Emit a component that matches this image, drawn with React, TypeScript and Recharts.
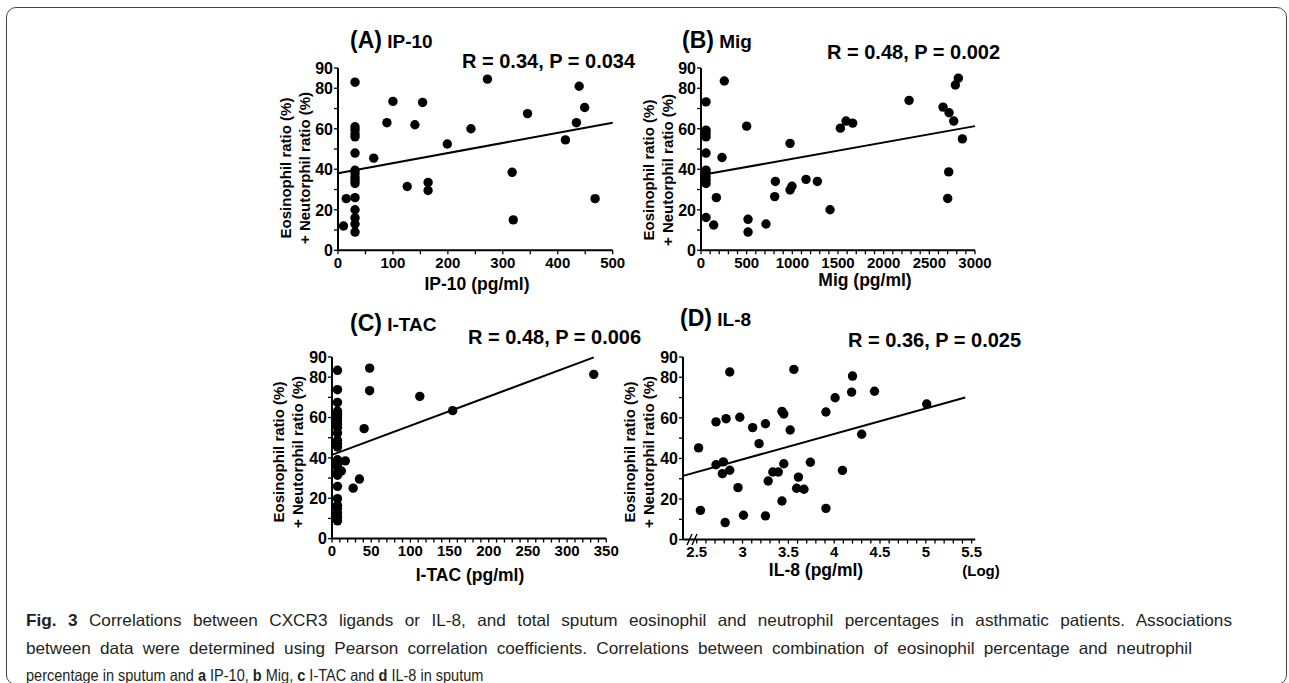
import React from "react";
import { ScatterChart, Scatter, XAxis, YAxis, ReferenceLine } from "recharts";

// values: [x, y]
const ip10Points = [
  [10, 12], [15, 25.5], [31, 83], [31, 61], [31, 59.5], [31, 57.5], [31, 56],
  [31, 48], [31, 39.5], [31, 38], [31, 36], [31, 34.5], [31, 33], [31, 26],
  [31, 20], [31, 16], [31, 13], [31, 9], [65, 45.5], [89, 63], [100, 73.5],
  [126, 31.5], [140, 62], [154, 73], [164, 33.5], [164, 29.5], [199, 52.5],
  [242, 60], [272, 84.5], [317, 38.5], [319, 15], [345, 67.5], [414, 54.5],
  [434, 63], [439, 81], [449, 70.5], [468, 25.5],
];
const ip10Fit = [[0, 38], [500, 63]];

const migPoints = [
  [55, 73.3], [255, 83.6], [55, 59.3], [55, 57.7], [55, 56], [55, 48],
  [55, 39.6], [55, 38.2], [55, 36.3], [55, 34.6], [55, 33], [55, 16.2],
  [139, 12.5], [168, 26], [230, 45.8], [500, 61.3], [515, 15.3], [515, 9],
  [712, 13], [814, 34], [807, 26.5], [975, 52.8], [975, 29.8], [996, 31.6],
  [1150, 35], [1274, 34], [1413, 20], [1526, 60.3], [1588, 63.8], [1661, 62.8],
  [2278, 74], [2650, 70.7], [2716, 67.9], [2767, 63.8], [2862, 55], [2712, 38.7],
  [2701, 25.6], [2785, 81.6], [2818, 85],
];
const migFit = [[50, 37.5], [3000, 61.3]];

const itacPoints = [
  [7, 83.4], [7, 73.8], [7, 67.5], [7, 63.2], [7, 61.6], [7, 59.9], [7, 58.3],
  [7, 56.6], [7, 55], [7, 52.3], [7, 48.7], [7, 47.1], [7, 45.4], [7, 39.1],
  [7, 37.2], [7, 35.5], [7, 33], [7, 31.4], [7, 25.9], [7, 19.8], [7, 16.5],
  [7, 14.9], [7, 12.7], [7, 10.7], [7, 8.8], [12, 33.5], [17, 38.5], [27, 25],
  [35, 29.5], [41, 54.5], [48, 84.5], [48, 73.3], [112, 70.5], [154, 63.4],
  [334, 81.4],
];
const itacFit = [[0, 41.5], [334, 89.8]];

const il8Points = [
  [2.52, 45.2], [2.54, 14.4], [2.71, 58], [2.71, 36.9], [2.78, 32.5], [2.79, 38.3],
  [2.81, 8.4], [2.82, 59.6], [2.86, 82.6], [2.86, 34.2], [2.95, 25.6], [2.97, 60.3],
  [3.01, 12], [3.11, 55.2], [3.18, 47.3], [3.25, 57.1], [3.25, 11.7], [3.28, 28.9],
  [3.33, 33.3], [3.39, 33.3], [3.43, 19], [3.43, 63.2], [3.45, 37.4], [3.45, 61.9],
  [3.52, 54], [3.56, 83.9], [3.59, 25.3], [3.61, 30.8], [3.67, 24.8], [3.74, 38.1],
  [3.91, 62.9], [3.91, 15.4], [4.01, 69.9], [4.09, 34.1], [4.19, 72.7], [4.2, 80.6],
  [4.3, 51.9], [4.44, 73.1], [5.01, 66.8],
];
const il8Fit = [[2.35, 31.4], [5.43, 70]];

const yTicks = [0, 10, 20, 30, 40, 50, 60, 70, 80, 90];
const yLabels = [0, 20, 40, 60, 80, 90];

const ip10Labels = [0, 100, 200, 300, 400, 500];
const migLabels = [0, 500, 1000, 1500, 2000, 2500, 3000];
const itacLabels = [0, 50, 100, 150, 200, 250, 300, 350];
const il8Labels = [2.5, 3, 3.5, 4, 4.5, 5, 5.5];

const FONT = '"Liberation Sans", Arial, Helvetica, sans-serif';

const steps = (a: number, b: number, s: number) => {
  const out: number[] = [];
  for (let v = a; v <= b + s / 2; v += s) out.push(Math.round(v * 100) / 100);
  return out;
};

const toPts = (arr: number[][]) => arr.map(([x, y]) => ({ x, y }));

const panels = [
  {
    id: "A",
    data: ip10Points,
    fit: ip10Fit,
    plot: { left: 338, right: 612.7, top: 67.7, bottom: 250 },
    domain: [0, 500],
    ticks: steps(0, 500, 50),
    labels: ip10Labels,
  },
  {
    id: "B",
    data: migPoints,
    fit: migFit,
    plot: { left: 701, right: 975, top: 67.7, bottom: 250 },
    domain: [0, 3000],
    ticks: steps(0, 3000, 100),
    labels: migLabels,
  },
  {
    id: "C",
    data: itacPoints,
    fit: itacFit,
    plot: { left: 331.7, right: 606, top: 356.7, bottom: 538.3 },
    domain: [0, 350],
    ticks: steps(0, 350, 10),
    labels: itacLabels,
  },
  {
    id: "D",
    data: il8Points,
    fit: il8Fit,
    plot: { left: 682.7, right: 975, top: 356.7, bottom: 539.3 },
    domain: [2.35, 5.54],
    ticks: steps(2.5, 5.5, 0.1),
    labels: il8Labels,
  },
];

const TOP = 20;
const RIGHT = 32;
const YW = 70;
const XH = 40;

function Panel({ p }: { p: (typeof panels)[number] }) {
  const { plot } = p;
  const width = plot.right - plot.left + YW + RIGHT;
  const height = plot.bottom - plot.top + TOP + XH;
  const fit = toPts(p.fit);
  return (
    <div style={{ position: "absolute", left: plot.left - YW, top: plot.top - TOP }}>
      <ScatterChart width={width} height={height} margin={{ top: TOP, right: RIGHT, bottom: 0, left: 0 }}>
        <XAxis
          type="number"
          dataKey="x"
          domain={p.domain}
          ticks={p.ticks}
          interval={0}
          allowDataOverflow
          height={XH}
          tickSize={4}
          tickMargin={2}
          axisLine={{ stroke: "#000", strokeWidth: 2 }}
          tickLine={{ stroke: "#000", strokeWidth: 1.3 }}
          tick={(t: any) =>
            p.labels.some((l) => Math.abs(l - t.payload.value) < 1e-6) ? (
              <text x={t.x} y={t.y} dy="0.75em" textAnchor="middle" fontSize={15} fontWeight="bold" fontFamily={FONT} fill="#000">
                {t.payload.value}
              </text>
            ) : (
              <g />
            )
          }
        />
        <YAxis
          type="number"
          dataKey="y"
          domain={[0, 90]}
          ticks={yTicks}
          interval={0}
          allowDataOverflow
          width={YW}
          tickSize={4}
          tickMargin={1}
          axisLine={{ stroke: "#000", strokeWidth: 2 }}
          tickLine={{ stroke: "#000", strokeWidth: 1.3 }}
          tick={(t: any) =>
            yLabels.includes(t.payload.value) ? (
              <text x={t.x} y={t.y} dy="0.36em" textAnchor="end" fontSize={16} fontWeight="bold" fontFamily={FONT} fill="#000">
                {t.payload.value}
              </text>
            ) : (
              <g />
            )
          }
        />
        <Scatter
          data={toPts(p.data)}
          fill="#000"
          isAnimationActive={false}
          shape={(s: any) => <circle cx={s.cx} cy={s.cy} r={4.7} fill="#000" />}
        />
        <ReferenceLine
          segment={[fit[0], fit[1]]}
          stroke="#000"
          strokeWidth={2}
          ifOverflow="visible"
        />
      </ScatterChart>
    </div>
  );
}

const Txt = ({ x, y, center, size, children }: any) => (
  <div
    style={{
      position: "absolute",
      left: x,
      top: y,
      transform: center ? "translate(-50%, -50%)" : "translateY(-50%)",
      whiteSpace: "nowrap",
      lineHeight: 1,
      fontSize: size,
      fontWeight: "bold",
      color: "#000",
    }}
  >
    {children}
  </div>
);

const Title = ({ x, y, tag, name }: any) => (
  <Txt x={x} y={y} size={19}>
    <span style={{ fontSize: 23 }}>({tag})</span> {name}
  </Txt>
);

const YLabel = ({ axisX, cy }: any) => (
  <div
    style={{
      position: "absolute",
      left: axisX - 43.5,
      top: cy,
      transform: "translate(-50%, -50%) rotate(-90deg)",
      whiteSpace: "nowrap",
      textAlign: "center",
      fontSize: 15,
      lineHeight: "19px",
      fontWeight: "bold",
    }}
  >
    <div>Eosinophil ratio (%)</div>
    <div>+ Neutorphil ratio (%)</div>
  </div>
);

// caption lines: the first two justified to the column width
const CapLine = ({ top, width, squeeze, last, children }: any) => (
  <div
    style={{
      position: "absolute",
      left: 26,
      top,
      width: width / squeeze,
      transform: `scaleX(${squeeze})`,
      transformOrigin: "0 0",
      whiteSpace: "nowrap",
      textAlign: "justify",
      textAlignLast: last ? "left" : "justify",
      fontSize: 16.5,
      lineHeight: "20px",
      color: "#231f20",
    }}
  >
    {children}
  </div>
);

export default function App() {
  return (
    <div
      style={{
        position: "absolute",
        left: 0,
        top: 0,
        width: 1289,
        height: 683,
        overflow: "hidden",
        background: "#fff",
        fontFamily: FONT,
      }}
    >
      <div
        style={{
          position: "absolute",
          left: 6,
          top: 7,
          width: 1279,
          height: 676,
          border: "1.5px solid #444",
          borderRadius: 10,
        }}
      />

      {panels.map((p) => (
        <Panel key={p.id} p={p} />
      ))}

      <Title x={350} y={40} tag="A" name="IP-10" />
      <Title x={682} y={40} tag="B" name="Mig" />
      <Title x={350} y={323} tag="C" name="I-TAC" />
      <Title x={680} y={318} tag="D" name="IL-8" />

      <Txt x={462} y={61} size={20}>R = 0.34, P = 0.034</Txt>
      <Txt x={827} y={52} size={20}>R = 0.48, P = 0.002</Txt>
      <Txt x={468} y={337} size={20}>R = 0.48, P = 0.006</Txt>
      <Txt x={848} y={340} size={20}>R = 0.36, P = 0.025</Txt>

      <YLabel axisX={338} cy={168} />
      <YLabel axisX={701} cy={170} />
      <YLabel axisX={331.7} cy={452} />
      <YLabel axisX={682.7} cy={452} />

      <Txt x={477} y={285} size={17.5} center>IP-10 (pg/ml)</Txt>
      <Txt x={865} y={281} size={17.5} center>Mig (pg/ml)</Txt>
      <Txt x={470} y={576} size={17.5} center>I-TAC (pg/ml)</Txt>
      <Txt x={816} y={571} size={17.5} center>IL-8 (pg/ml)</Txt>
      <Txt x={981} y={570} size={15} center>(Log)</Txt>

      {/* axis break on panel D */}
      <svg style={{ position: "absolute", left: 0, top: 0 }} width={1289} height={683} pointerEvents="none">
        <line x1={687} y1={545} x2={692} y2={534} stroke="#000" strokeWidth={1.4} />
        <line x1={692} y1={545} x2={697} y2={534} stroke="#000" strokeWidth={1.4} />
      </svg>

      <CapLine top={610} width={1206} squeeze={1.04}>
        <b>Fig. 3</b> Correlations between CXCR3 ligands or IL-8, and total sputum eosinophil and neutrophil percentages in asthmatic patients. Associations
      </CapLine>
      <CapLine top={638} width={1166} squeeze={1.04}>
        between data were determined using Pearson correlation coefficients. Correlations between combination of eosinophil percentage and neutrophil
      </CapLine>
      <CapLine top={665} width={1206} squeeze={0.88} last>
        percentage in sputum and <b>a</b> IP-10, <b>b</b> Mig, <b>c</b> I-TAC and <b>d</b> IL-8 in sputum
      </CapLine>
    </div>
  );
}
